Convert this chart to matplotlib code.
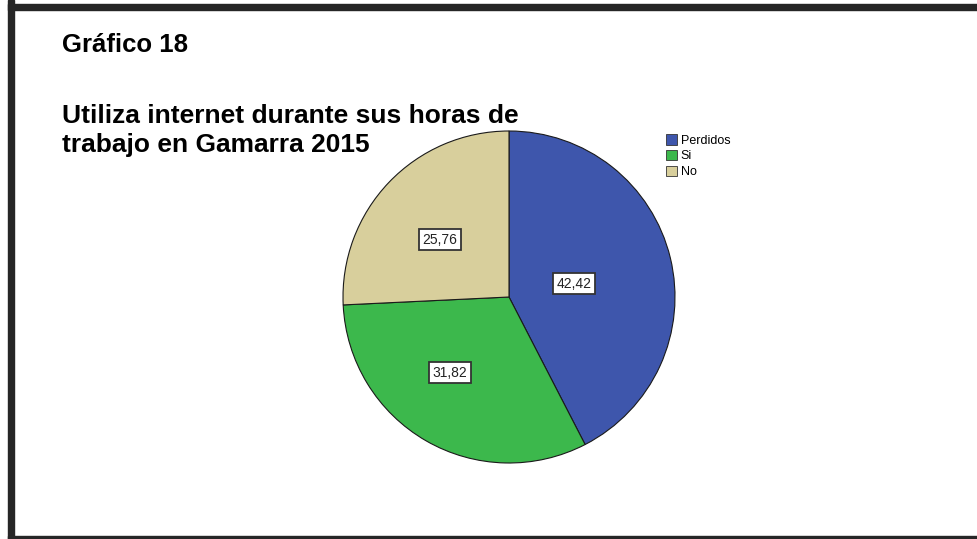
import numpy as np
import matplotlib.pyplot as plt
from matplotlib.patches import Patch, Rectangle

plt.rcParams['font.family'] = ['Liberation Sans', 'DejaVu Sans']

categorias = ['Perdidos', 'Si', 'No']
porcentajes = [42.42, 31.82, 25.76]
colores = ['#3e56ac', '#3cb84c', '#d8cf9c']
etiquetas = ['42,42', '31,82', '25,76']
dist_etiqueta = [0.40, 0.58, 0.54]
giro_etiqueta = [-2, -8, 4]

W, H = 978, 539
fig = plt.figure(figsize=(W / 100, H / 100), dpi=100)

# marco oscuro (izquierda, arriba, abajo)
fig.patches.append(Rectangle((8 / W, 0), 6 / W, 1, transform=fig.transFigure,
                             color='#262626', zorder=5))
fig.patches.append(Rectangle((8 / W, 1 - 10 / H), 1, 6 / H, transform=fig.transFigure,
                             color='#262626', zorder=5))
fig.patches.append(Rectangle((8 / W, 0), 1, 3 / H, transform=fig.transFigure,
                             color='#262626', zorder=5))

fig.text(62 / W, 1 - 45 / H, 'Gráfico 18', fontsize=18.5, fontweight='bold',
         va='center', ha='left')
fig.text(62 / W, 1 - 116 / H, 'Utiliza internet durante sus horas de', fontsize=19,
         fontweight='bold', va='center', ha='left')
fig.text(62 / W, 1 - 145 / H, 'trabajo en Gamarra 2015', fontsize=19,
         fontweight='bold', va='center', ha='left')

# torta
cx, cy, r = 509, 297, 166
ax = fig.add_axes([(cx - r) / W, (H - cy - r) / H, 2 * r / W, 2 * r / H])
wedges, _ = ax.pie(porcentajes, colors=colores, startangle=90, counterclock=False,
                   radius=1, wedgeprops=dict(edgecolor='#1a1a1a', linewidth=0.8))
ax.set_xlim(-1, 1)
ax.set_ylim(-1, 1)
ax.axis('off')

for w, txt, d, g in zip(wedges, etiquetas, dist_etiqueta, giro_etiqueta):
    ang = np.deg2rad((w.theta1 + w.theta2) / 2 + g)
    ax.text(d * np.cos(ang), d * np.sin(ang), txt, ha='center', va='center',
            fontsize=10, color='#222222',
            bbox=dict(boxstyle='square,pad=0.25', facecolor='white',
                      edgecolor='#333333', linewidth=1.3))

handles = [Patch(facecolor=c, edgecolor='#333333', linewidth=0.6) for c in colores]
fig.legend(handles, categorias, loc='upper left', bbox_to_anchor=(660 / W, 1 - 128 / H),
           frameon=False, fontsize=9, handlelength=0.9, handleheight=0.9,
           handletextpad=0.25, labelspacing=0.25, borderpad=0)

fig.savefig('out.png', dpi=100)
